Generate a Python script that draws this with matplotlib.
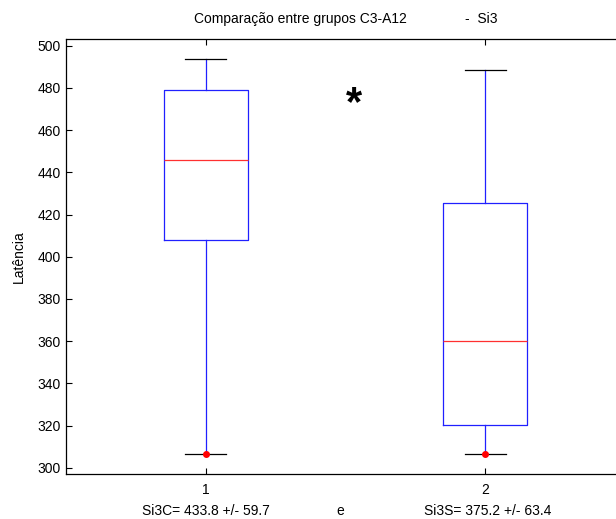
import matplotlib
matplotlib.use("Agg")
import matplotlib.pyplot as plt

plt.rcParams['font.family'] = ['Liberation Sans', 'DejaVu Sans']

# Box statistics per group
groups = [1, 2]
whisker_low = [306.4, 306.4]
q1 = [408.1, 320.2]
medians = [445.6, 360.0]
q3 = [478.8, 425.5]
whisker_high = [493.8, 488.5]
outliers = [[306.4], [306.4]]

yticks = list(range(300, 501, 20))
summary = ["Si3C= 433.8 +/- 59.7", "e", "Si3S= 375.2 +/- 63.4"]
title = "Comparação entre grupos C3-A12               -  Si3"

W, H = 616, 519
fig = plt.figure(figsize=(W / 100, H / 100), dpi=100)
ax = fig.add_axes([66.3 / W, 1 - 473.7 / H, 558.6 / W, 435.0 / H])

stats = []
for i in range(len(groups)):
    stats.append(dict(whislo=whisker_low[i], q1=q1[i], med=medians[i],
                      q3=q3[i], whishi=whisker_high[i], fliers=outliers[i]))

ax.bxp(stats, positions=groups, widths=0.3, capwidths=0.147,
       showfliers=True, patch_artist=False,
       boxprops=dict(color='#2020ff', linewidth=0.9),
       whiskerprops=dict(color='#2020ff', linewidth=0.9),
       capprops=dict(color='black', linewidth=0.9),
       medianprops=dict(color='#ff3030', linewidth=0.9),
       flierprops=dict(marker='o', markerfacecolor='red',
                       markeredgecolor='red', markersize=4))

ax.set_xlim(0.5, 2.5)
ax.set_ylim(297.2, 503.3)
ax.set_yticks(yticks)
ax.set_xticks(groups)
ax.set_xticklabels([str(g) for g in groups])

for s in ax.spines.values():
    s.set_linewidth(0.9)
    s.set_color('black')
ax.tick_params(direction='in', length=4, width=0.8, labelsize=10,
               top=True, right=True)
ax.tick_params(axis='x', pad=7)
ax.tick_params(axis='y', pad=4)

ax.set_ylabel("Latência", fontsize=10, labelpad=8)
ax.set_title(title, fontsize=10, pad=11)

# significance marker
ax.text(1.53, 472.5, "*", fontsize=30, fontweight='bold',
        ha='center', va='center')

# group summaries under the axis
for txt, px in zip(summary, [205.5, 340.0, 487.5]):
    fig.text(px / W, 1 - 511 / H, txt, fontsize=10, ha='center', va='center')

fig.savefig("out.png", dpi=100)
